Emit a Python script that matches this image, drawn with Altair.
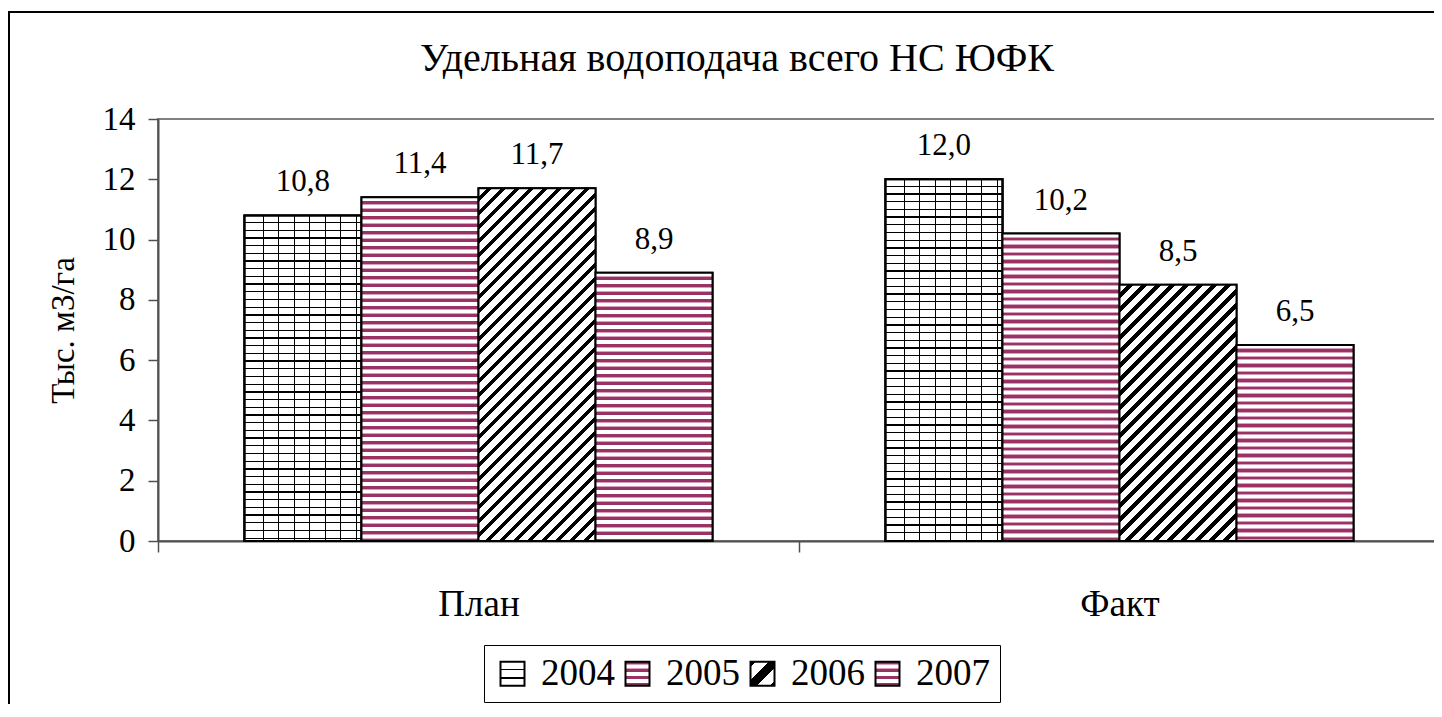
import altair as alt
import pandas as pd

# ---------------- data ----------------
categories = ["План", "Факт"]
years = ["2004", "2005", "2006", "2007"]
values_plan = [10.8, 11.4, 11.7, 8.9]
values_fact = [12.0, 10.2, 8.5, 6.5]

rows = []
for c, vals in zip(categories, [values_plan, values_fact]):
    for y, v in zip(years, vals):
        rows.append({"cat": c, "year": y, "value": v})
df = pd.DataFrame(rows)

# ---------------- style ----------------
FONT = "Liberation Serif"
PLOT_W, PLOT_H = 1282, 422
Y_MAX = 14
BAND = PLOT_W / 2
OFF_PAD = 0.739
BAR_W = BAND / (4 + 2 * OFF_PAD)
MAG = "#993366"
PINK = "#d6a0bd"
WHITE = "#ffffff"
BLACK = "#000000"
CLEAR = "rgba(0,0,0,0)"


def stripe_stops(total, pattern, phase=0.0):
    stops = []
    pos = -phase
    i = 0
    while pos < total:
        ln, col = pattern[i % len(pattern)]
        a = max(pos, 0) / total
        b = min(pos + ln, total) / total
        if b > a:
            stops.append({"offset": round(a, 5), "color": col})
            stops.append({"offset": round(b, 5), "color": col})
        pos += ln
        i += 1
    return stops


def grad(stops, x2=0, y2=1):
    return {"gradient": "linear", "x1": 0, "y1": 0, "x2": x2, "y2": y2, "stops": stops}


MAG_PATTERN = [(3.4, WHITE), (0.6, PINK), (2.9, MAG), (0.6, PINK)]
BRICK_H = [(6.4, WHITE), (1.3, BLACK)]
BRICK_V = [(14.2, CLEAR), (1.3, BLACK)]
HATCH = [(8.5, WHITE), (5.5, BLACK)]


def bar_fills(year, value):
    h = value / Y_MAX * PLOT_H
    w = BAR_W
    if year in ("2005", "2007"):
        return [grad(stripe_stops(h, MAG_PATTERN))]
    if year == "2004":
        return [grad(stripe_stops(h, BRICK_H)),
                grad(stripe_stops(w, BRICK_V, phase=-4), x2=1, y2=0)]
    total = w + h * h / w
    return [grad(stripe_stops(total, HATCH), x2=1, y2=h / w)]


def expr_grad(stops, x2=0, y2=1):
    s = ",".join("{offset:%s,color:'%s'}" % (st["offset"], st["color"]) for st in stops)
    return {"expr": "{gradient:'linear',x1:0,y1:0,x2:%s,y2:%s,stops:[%s]}" % (x2, y2, s)}


legend_ranges = [
    expr_grad(stripe_stops(24, [(6.8, WHITE), (1.6, BLACK)])),
    expr_grad(stripe_stops(24, [(2.7, MAG), (0.6, PINK), (3.3, WHITE), (0.6, PINK)])),
    expr_grad(stripe_stops(1.0, [(0.1, BLACK), (0.28, WHITE), (0.24, BLACK), (0.28, WHITE), (0.1, BLACK)]), x2=1, y2=1),
    expr_grad(stripe_stops(24, [(2.7, MAG), (0.6, PINK), (3.3, WHITE), (0.6, PINK)])),
]

x_enc = alt.X("cat:N", sort=categories, scale=alt.Scale(paddingInner=0, paddingOuter=0),
              axis=alt.Axis(title=None, labelAngle=0, tickBand="extent", tickSize=11,
                            labelFontSize=37, labelPadding=34, labelFont=FONT,
                            labelColor=BLACK, domainColor="#505050", domainWidth=2,
                            tickColor="#505050", tickWidth=1.5))
xo_enc = alt.XOffset("year:N", sort=years, scale=alt.Scale(paddingOuter=OFF_PAD, paddingInner=0))
y_enc = alt.Y("value:Q", scale=alt.Scale(domain=[0, Y_MAX], nice=False),
              axis=alt.Axis(title="Тыс. м3/га", values=list(range(0, 15, 2)), grid=False,
                            tickSize=10, labelFontSize=33, labelFont=FONT, labelPadding=13,
                            labelColor=BLACK, titleFont=FONT, titleFontSize=33,
                            titleFontWeight="normal", titleColor=BLACK, titlePadding=22,
                            domainColor="#505050", domainWidth=2, tickColor="#505050",
                            tickWidth=1.5))

base = alt.Chart(df)

legend_bars = base.mark_bar(stroke=BLACK, strokeWidth=2).encode(
    x=x_enc, xOffset=xo_enc, y=y_enc,
    fill=alt.Fill("year:N", sort=years,
                  scale=alt.Scale(domain=years, range=legend_ranges),
                  legend=alt.Legend(title=None, orient="none", legendX=326, legendY=526,
                                    direction="horizontal", columns=4,
                                    symbolType="square", symbolSize=576,
                                    symbolStrokeColor=BLACK, symbolStrokeWidth=2,
                                    labelFont=FONT, labelFontSize=37, labelColor=BLACK,
                                    labelOffset=10, columnPadding=4, padding=10,
                                    strokeColor=BLACK, fillColor=WHITE, labelLimit=200)),
)

layers = []
# outer chart border
frame = alt.Chart(pd.DataFrame({"k": [0]})).mark_rect(
    fillOpacity=0, stroke=BLACK, strokeWidth=2
).encode(x=alt.value(-149), x2=alt.value(1400), y=alt.value(-107), y2=alt.value(640))
layers.append(frame)
layers.append(legend_bars)

for r in rows:
    fills = bar_fills(r["year"], r["value"])
    for f in fills:
        layers.append(
            base.transform_filter(
                (alt.datum.cat == r["cat"]) & (alt.datum.year == r["year"])
            ).mark_bar(fill=f, stroke=BLACK, strokeWidth=2).encode(
                x=x_enc, xOffset=xo_enc, y=y_enc
            )
        )

labels = base.transform_calculate(
    label="replace(format(datum.value, '.1f'), '.', ',')"
).mark_text(font=FONT, fontSize=31, color=BLACK, baseline="alphabetic", dy=-24).encode(
    x=x_enc, xOffset=xo_enc, y=y_enc, text="label:N"
)
layers.append(labels)

chart = alt.layer(*layers).properties(
    width=PLOT_W,
    height=PLOT_H,
    autosize=alt.AutoSizeParams(type="none"),
    padding={"left": 150, "top": 111, "right": -6, "bottom": 163},
    background="white",
    title=alt.TitleParams(text="Удельная водоподача всего  НС ЮФК", font=FONT, fontSize=40,
                          fontWeight="normal", color=BLACK, anchor="middle", frame="group",
                          dx=-62, offset=-100, baseline="alphabetic"),
).configure_view(stroke="#808080", strokeWidth=2)

chart.save("out.html", embed_options={"renderer": "svg", "actions": False})
